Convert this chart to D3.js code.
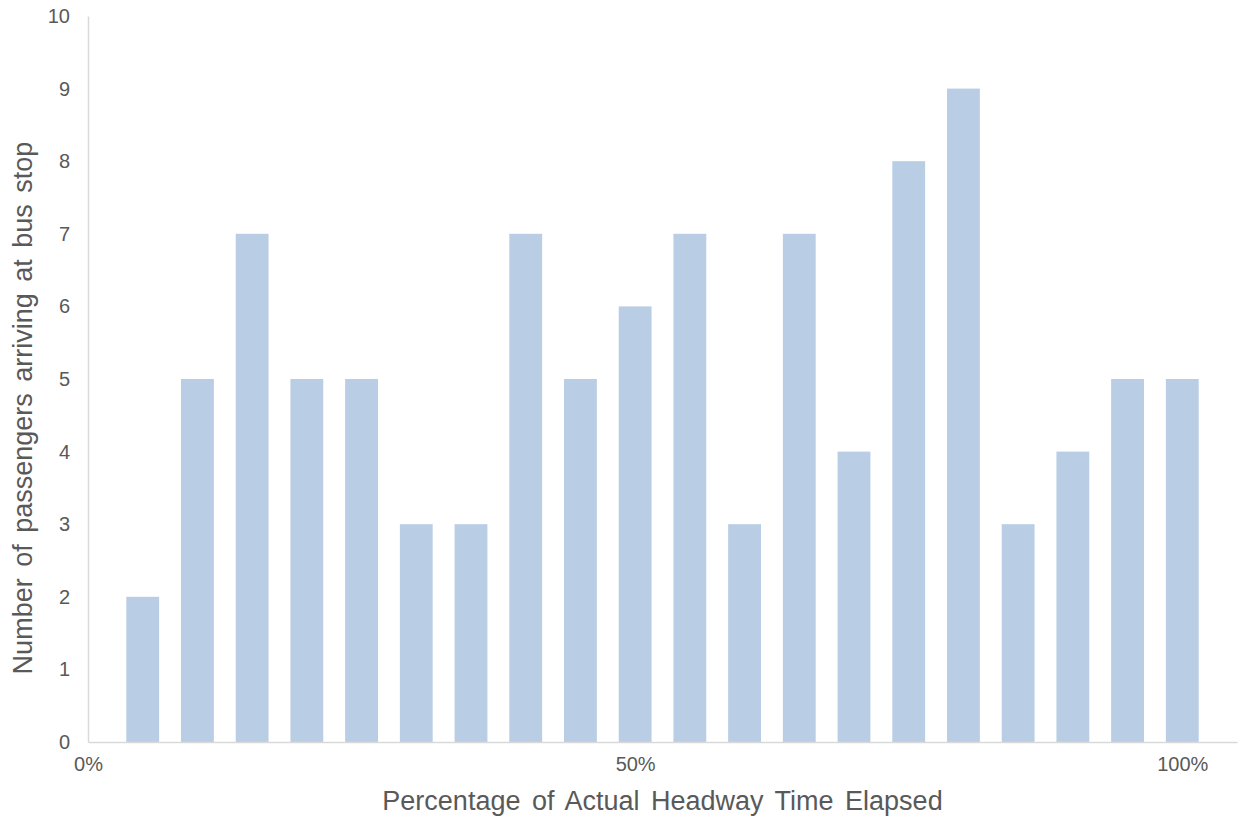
<!DOCTYPE html>
<html><head><meta charset="utf-8">
<script src="https://cdn.jsdelivr.net/npm/d3@7"></script>
<style>body{margin:0;background:#fff;} text{font-family:"Liberation Sans",Arial,sans-serif;}</style>
</head><body>
<svg id="chart" width="1241" height="818"></svg>
<script>
const binPositions = [0.05,0.10,0.15,0.20,0.25,0.30,0.35,0.40,0.45,0.50,0.55,0.60,0.65,0.70,0.75,0.80,0.85,0.90,0.95,1.00];
const passengerCounts = [2,5,7,5,5,3,3,7,5,6,7,3,7,4,8,9,3,4,5,5];
const xTicks = [0,0.5,1];
const yTicks = [0,1,2,3,4,5,6,7,8,9,10];
const xTitle = "Percentage of Actual Headway Time Elapsed";
const yTitle = "Number of passengers arriving at bus stop";

(function(){
const svg = d3.select("#chart");
const mL = 88, mR = 1237, mT = 16, mB = 742;
const x = d3.scaleLinear().domain([0,1.05]).range([mL,mR]);
const y = d3.scaleLinear().domain([0,10]).range([mB,mT]);
const barW = (x(0.05)-x(0))*0.6;
const grey = "#595959", axisCol = "#d9d9d9";

svg.append("g").selectAll("rect").data(binPositions).join("rect")
  .attr("x", d => x(d)-barW/2)
  .attr("width", barW)
  .attr("y", (d,i) => y(passengerCounts[i]))
  .attr("height", (d,i) => y(0)-y(passengerCounts[i]))
  .attr("fill", "#b9cde5");

const yAxis = svg.append("g").attr("transform",`translate(${mL},0)`)
  .call(d3.axisLeft(y).tickValues(yTicks).tickSize(0).tickPadding(18).tickFormat(d3.format("d")));
yAxis.select(".domain").attr("stroke", axisCol).attr("stroke-width",1.5);
yAxis.selectAll("text").attr("fill", grey).style("font-size","20px");

const xAxis = svg.append("g").attr("transform",`translate(0,${mB})`)
  .call(d3.axisBottom(x).tickValues(xTicks).tickSize(0).tickPadding(15).tickFormat(d3.format(".0%")));
xAxis.select(".domain").attr("stroke", axisCol).attr("stroke-width",1.5);
xAxis.selectAll("text").attr("fill", grey).style("font-size","20px");

svg.append("text").attr("x", (mL+mR)/2).attr("y", 810)
  .attr("text-anchor","middle").attr("fill",grey)
  .style("font-size","27px").style("word-spacing","4px").text(xTitle);

svg.append("text").attr("transform","translate(32,408) rotate(-90)")
  .attr("text-anchor","middle").attr("fill",grey)
  .style("font-size","27px").style("word-spacing","4px").text(yTitle);
})();
</script>
</body></html>
